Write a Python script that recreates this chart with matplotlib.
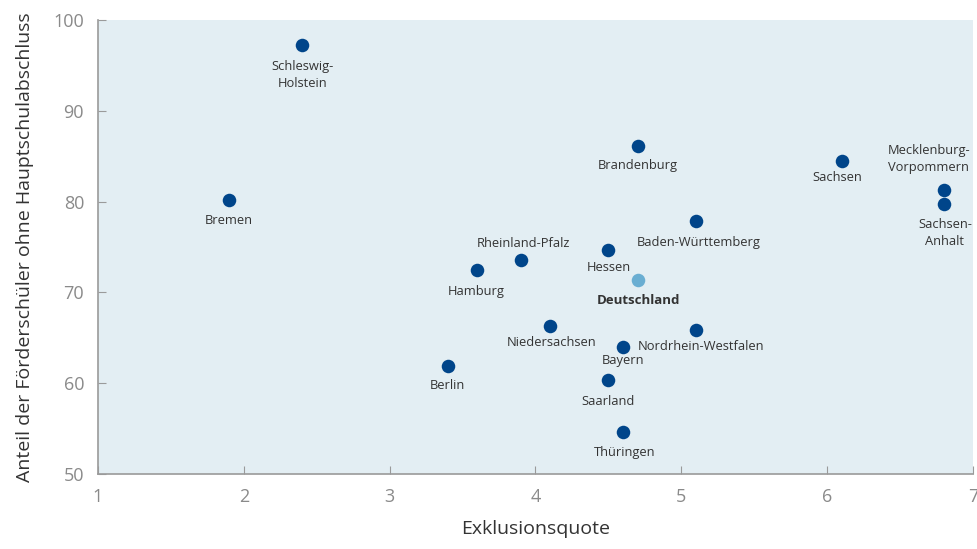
import matplotlib.pyplot as plt

# Exklusionsquote vs. Anteil der Förderschüler ohne Hauptschulabschluss
laender = ['Schleswig-\nHolstein', 'Bremen', 'Brandenburg', 'Sachsen',
           'Mecklenburg-\nVorpommern', 'Sachsen-\nAnhalt', 'Baden-Württemberg',
           'Hessen', 'Rheinland-Pfalz', 'Hamburg', 'Niedersachsen',
           'Nordrhein-Westfalen', 'Bayern', 'Berlin', 'Saarland', 'Thüringen']
exklusion = [2.4, 1.9, 4.7, 6.1, 6.8, 6.8, 5.1, 4.5, 3.9, 3.6, 4.1, 5.1, 4.6, 3.4, 4.5, 4.6]
anteil = [97.2, 80.2, 86.1, 84.5, 81.3, 79.7, 77.9, 74.7, 73.6, 72.5, 66.3, 65.9, 64.0, 61.9, 60.4, 54.6]

de_name = 'Deutschland'
de_x = 4.7
de_y = 71.4

# label offsets in pixels (dx, dy downwards) from dot centre
offsets = {
    'Schleswig-\nHolstein': (0, 30),
    'Bremen': (0, 21),
    'Brandenburg': (0, 19),
    'Sachsen': (-4, 17),
    'Mecklenburg-\nVorpommern': (-15, -31),
    'Sachsen-\nAnhalt': (1, 29),
    'Baden-Württemberg': (3, 22),
    'Hessen': (0, 18),
    'Rheinland-Pfalz': (3, -16),
    'Hamburg': (-1, 22),
    'Niedersachsen': (1, 17),
    'Nordrhein-Westfalen': (5, 17),
    'Bayern': (0, 14),
    'Berlin': (-1, 20),
    'Saarland': (0, 22),
    'Thüringen': (2, 20),
}

plt.rcParams['font.family'] = ['Open Sans', 'DejaVu Sans']

fig = plt.figure(figsize=(9.78, 5.49), dpi=100)
ax = fig.add_axes([98 / 978, 75 / 549, 875 / 978, 454 / 549])
ax.set_facecolor('#e3eef3')

dark = '#00458a'
light = '#6aaed2'
px = 72 / 100

ax.scatter(exklusion, anteil, s=95, color=dark, zorder=3, linewidths=0)
ax.scatter([de_x], [de_y], s=95, color=light, zorder=3, linewidths=0)

for name, x, y in zip(laender, exklusion, anteil):
    dx, dy = offsets[name]
    ax.annotate(name, (x, y), xytext=(dx * px, -dy * px), textcoords='offset points',
                ha='center', va='center', fontsize=9.3, color='#333333',
                linespacing=1.4)
ax.annotate(de_name, (de_x, de_y), xytext=(1 * px, -21 * px), textcoords='offset points',
            ha='center', va='center', fontsize=9.5, color='#333333', fontweight='bold')

ax.set_xlim(1, 7)
ax.set_ylim(50, 100)
ax.set_xticks(range(1, 8))
ax.set_yticks(range(50, 101, 10))

for side in ['top', 'right']:
    ax.spines[side].set_visible(False)
for side in ['left', 'bottom']:
    ax.spines[side].set_color('#9a9a9a')
    ax.spines[side].set_linewidth(1.2)

ax.tick_params(direction='in', length=6, color='#9a9a9a', labelcolor='#8a8a8a', labelsize=13)
ax.tick_params(axis='x', pad=10)
ax.tick_params(axis='y', pad=10)

ax.set_xlabel('Exklusionsquote', fontsize=14, color='#333333', labelpad=10)
ax.set_ylabel('Anteil der Förderschüler ohne Hauptschulabschluss', fontsize=14,
              color='#333333', labelpad=14)

fig.savefig('out.png', dpi=100)
